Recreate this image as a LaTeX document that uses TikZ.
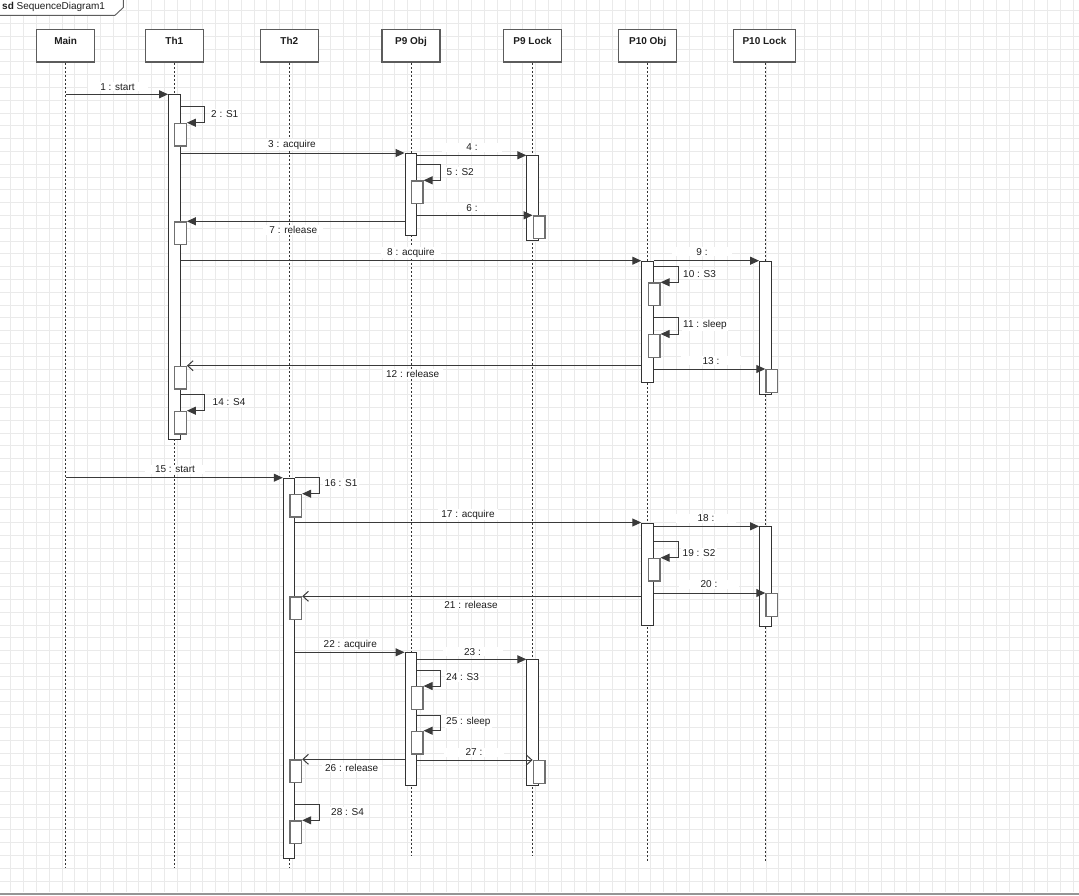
\documentclass[tikz,border=0pt]{standalone}
\usepackage{fontspec}
\setmainfont{Liberation Sans}
\usetikzlibrary{arrows.meta}
\definecolor{gridc}{HTML}{EAEAEA}
\definecolor{headc}{HTML}{5C5C5C}
\definecolor{lifec}{HTML}{333333}
\definecolor{actc}{HTML}{333333}
\definecolor{subc}{HTML}{707070}
\definecolor{msgc}{HTML}{3A3A3A}
\definecolor{txtc}{HTML}{1E1E1E}
\definecolor{barc}{HTML}{959595}
\begin{document}
\begin{tikzpicture}[x=1pt,y=-1pt,
  txt/.style={font=\fontsize{10}{11}\selectfont, text=txtc},
  head/.style={draw=headc, line width=1.5pt, fill=white, minimum width=58pt,
    minimum height=32.5pt, inner sep=0pt, text height=7pt, text depth=10.5pt,
    font=\fontsize{10}{11}\selectfont\bfseries, text=txtc},
  life/.style={draw=lifec, line width=0.9pt, dash pattern=on 2pt off 2pt},
  act/.style={draw=actc, line width=1pt, fill=white, minimum width=11.5pt,
    minimum height=#1, inner sep=0pt, anchor=north},
  sub/.style={draw=subc, line width=1.4pt, fill=white, minimum width=11.5pt,
    minimum height=22.5pt, inner sep=0pt, anchor=north west},
  call/.style={draw=msgc, line width=1pt, -{Triangle[length=9pt,width=8pt]}},
  reply/.style={draw=msgc, line width=1pt, -{Straight Barb[length=5.5pt,width=10pt]}},
  lbl/.style={txt, fill=white, inner xsep=3pt, inner ysep=1pt, minimum width=60pt},
  slbl/.style={txt, fill=white, inner sep=1.5pt, anchor=west}]

\useasboundingbox (0,0) rectangle (1079,895);

% background grid
\foreach \i in {0,...,83}
  \draw[gridc, line width=0.9pt] ({10.8+12.8*\i},0) -- ({10.8+12.8*\i},892);
\foreach \j in {0,...,68}
  \draw[gridc, line width=0.9pt] (0,{10.7+12.8*\j}) -- (1079,{10.7+12.8*\j});
\fill[barc] (0,892.5) rectangle (1079,895);

% frame tag
\draw[headc, line width=0.9pt, fill=white] (-1,-1) -- (123.3,-1) -- (123.3,7.5) -- (115,15.3) -- (-1,15.3);
\node[txt, anchor=west, inner sep=0pt] (sdlabel) at (2,7.3) {\textbf{sd} SequenceDiagram1};

% lifeline heads
\node[head] (mainhead) at (65.7,45.75) {Main};
\node[head] (th1head)  at (174.3,45.75) {Th1};
\node[head] (th2head)  at (289.3,45.75) {Th2};
\node[head] (p9ohead)  at (411,45.75) {P9 Obj};
\node[head] (p9lhead)  at (532.6,45.75) {P9 Lock};
\node[head] (p10ohead) at (647.7,45.75) {P10 Obj};
\node[head, minimum width=62pt] (p10lhead) at (764.5,45.75) {P10 Lock};

% lifeline ends
\coordinate (mainend) at (65.7,867);
\coordinate (th1end)  at (174.3,867);
\coordinate (th2end)  at (289.3,867);
\coordinate (p9oend)  at (411,856);
\coordinate (p9lend)  at (532.6,856);
\coordinate (p10oend) at (647.7,862);
\coordinate (p10lend) at (765.3,862);

\draw[life] (mainhead.south) -- (mainend);
\draw[life] (th1head.south) -- (th1end);
\draw[life] (th2head.south) -- (th2end);
\draw[life] (p9ohead.south) -- (p9oend);
\draw[life] (p9lhead.south) -- (p9lend);
\draw[life] (p10ohead.south) -- (p10oend);
\draw[life] (p10lend |- p10lhead.south) -- (p10lend);

% execution bars
\node[act=345pt]   (th1a)  at (174.3,94.3) {};
\node[act=82pt]    (p9oa)  at (410.8,153) {};
\node[act=84.7pt]  (p9la)  at (532.6,155.3) {};
\node[act=121pt]   (p10oa) at (647.5,260.7) {};
\node[act=133.3pt] (p10la) at (765.3,260.7) {};
\node[act=380.3pt] (th2a)  at (289,477.7) {};
\node[act=102.5pt] (p10ob) at (647.5,522.5) {};
\node[act=99.4pt]  (p10lb) at (765.3,526.3) {};
\node[act=132.7pt] (p9ob)  at (410.8,652.3) {};
\node[act=125.7pt] (p9lb)  at (532.6,659.3) {};

% nested bars
\node[sub] (th1s2)  at (174,122.7) {};
\node[sub] (p9o5)   at (410.7,180.3) {};
\node[sub] (p9l6)   at (532.6,215.3) {};
\node[sub] (th1s7)  at (174,221.3) {};
\node[sub] (p10o10) at (647.7,282.3) {};
\node[sub] (p10o11) at (647.7,334) {};
\node[sub] (th1s12) at (174,365.7) {};
\node[sub] (p10l13) at (765.3,369) {};
\node[sub] (th1s14) at (174,410.7) {};
\node[sub] (th2s16) at (289.3,493.7) {};
\node[sub] (p10o19) at (647.7,557.7) {};
\node[sub] (p10l20) at (765.3,593) {};
\node[sub] (th2s21) at (289.3,596.3) {};
\node[sub] (p9o24)  at (410.7,686) {};
\node[sub] (p9o25)  at (410.7,730.7) {};
\node[sub] (th2s26) at (289.3,759.3) {};
\node[sub] (p9l27)  at (532.6,760) {};
\node[sub] (th2s28) at (289.3,820.3) {};

% messages, first thread
\draw[call] (mainhead |- th1a.north) -- (th1a.north west);
\draw[call] (th1a.east |- 0,106.7) -- ++(23.7,0) |- (th1s2.north east);
\draw[call] (th1a.east |- p9oa.north) -- (p9oa.north west);
\draw[call] (p9oa.east |- p9la.north) -- (p9la.north west);
\draw[call] (p9oa.east |- 0,164.3) -- ++(23.7,0) |- (p9o5.north east);
\draw[call] (p9oa.east |- p9l6.north) -- (p9l6.north west);
\draw[call] (p9oa.west |- th1s7.north) -- (th1s7.north east);
\draw[call] (th1a.east |- p10oa.north) -- (p10oa.north west);
\draw[call] (p10oa.east |- p10la.north) -- (p10la.north west);
\draw[call] (p10oa.east |- 0,266.7) -- ++(24.4,0) |- (p10o10.north east);
\draw[call] (p10oa.east |- 0,317.7) -- ++(24.4,0) |- (p10o11.north east);
\draw[reply] (p10oa.west |- th1s12.north) -- (th1s12.north east);
\draw[call] (p10oa.east |- p10l13.north) -- (p10l13.north west);
\draw[call] (th1a.east |- 0,394.3) -- ++(23.7,0) |- (th1s14.north east);

% messages, second thread
\draw[call] (mainhead |- th2a.north) -- (th2a.north west);
\draw[call] (th2a.east |- th2a.north) -- ++(24.3,0) |- (th2s16.north east);
\draw[call] (th2a.east |- p10ob.north) -- (p10ob.north west);
\draw[call] (p10ob.east |- p10lb.north) -- (p10lb.north west);
\draw[call] (p10ob.east |- 0,541.7) -- ++(24.4,0) |- (p10o19.north east);
\draw[call] (p10ob.east |- p10l20.north) -- (p10l20.north west);
\draw[reply] (p10ob.west |- th2s21.north) -- (th2s21.north east);
\draw[call] (th2a.east |- p9ob.north) -- (p9ob.north west);
\draw[call] (p9ob.east |- p9lb.north) -- (p9lb.north west);
\draw[call] (p9ob.east |- 0,670) -- ++(23.7,0) |- (p9o24.north east);
\draw[call] (p9ob.east |- 0,715.3) -- ++(23.7,0) |- (p9o25.north east);
\draw[reply] (p9ob.west |- th2s26.north) -- (th2s26.north east);
\draw[reply] (p9ob.east |- p9l27.north) -- (p9l27.north west);
\draw[call] (th2a.east |- 0,804) -- ++(24.3,0) |- (th2s28.north east);

% message labels
\node[lbl] (m1)  at (117.5,86.7) {1 : start};
\node[slbl] (m2) at (209.5,113.7) {2 : S1};
\node[lbl] (m3)  at (292,144.7) {3 : acquire};
\node[lbl] (m4)  at (472,147.3) {4 :};
\node[slbl] (m5) at (445,171.7) {5 : S2};
\node[lbl] (m6)  at (472,207.7) {6 :};
\node[lbl] (m7)  at (293.3,230) {7 : release};
\node[lbl] (m8)  at (411,252.5) {8 : acquire};
\node[lbl] (m9)  at (702,251.7) {9 :};
\node[slbl] (m10) at (681.5,273.7) {10 : S3};
\node[slbl] (m11) at (681.5,325) {11 : sleep};
\node[lbl] (m12) at (412.7,374) {12 : release};
\node[lbl] (m13) at (711,360.7) {13 :};
\node[slbl] (m14) at (211,401.7) {14 : S4};
\node[lbl] (m15) at (175,469.5) {15 : start};
\node[slbl] (m16) at (323,482.7) {16 : S1};
\node[lbl] (m17) at (468,514.5) {17 : acquire};
\node[lbl] (m18) at (706,518.3) {18 :};
\node[slbl] (m19) at (681,552.7) {19 : S2};
\node[lbl] (m20) at (709,584.3) {20 :};
\node[lbl] (m21) at (471,604.5) {21 : release};
\node[lbl] (m22) at (350.3,644.7) {22 : acquire};
\node[lbl] (m23) at (472.5,651.7) {23 :};
\node[slbl] (m24) at (444.5,676.7) {24 : S3};
\node[slbl] (m25) at (444.5,721.7) {25 : sleep};
\node[lbl] (m26) at (351.7,767.7) {26 : release};
\node[lbl] (m27) at (474,752.3) {27 :};
\node[slbl] (m28) at (329.5,811.7) {28 : S4};

\end{tikzpicture}
\end{document}
